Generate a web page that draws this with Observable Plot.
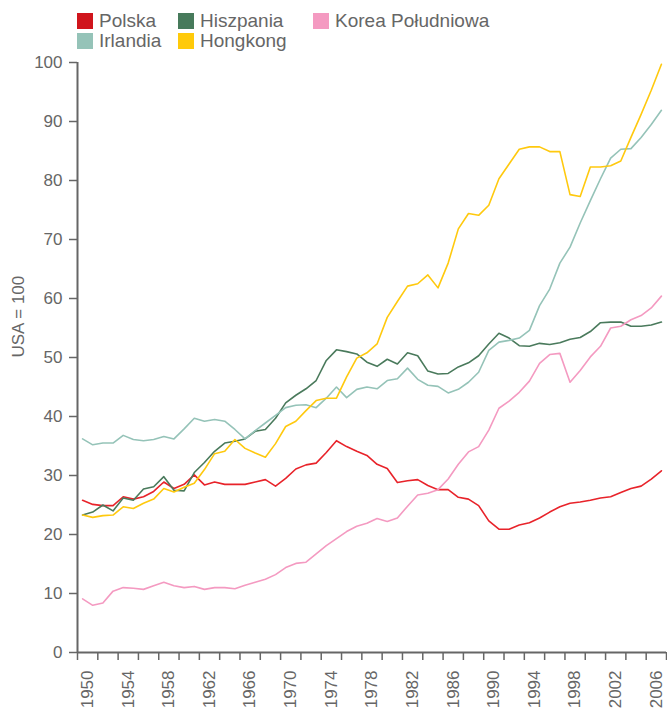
<!DOCTYPE html>
<html>
<head>
<meta charset="utf-8">
<script src="https://cdn.jsdelivr.net/npm/d3@7"></script>
<script src="https://cdn.jsdelivr.net/npm/@observablehq/plot@0.6"></script>
<style>
  html, body { margin: 0; padding: 0; background: #fff; }
  body { width: 667px; height: 713px; overflow: hidden; font-family: "Liberation Sans", Arial, sans-serif; }
  #legend { position: relative; height: 45px; width: 667px; }
  .item { position: absolute; display: flex; align-items: center; font-size: 19px; color: #666; line-height: 18px; white-space: nowrap; }
  .sw { width: 16px; height: 16px; margin-right: 6px; }
  #chart svg { display: block; overflow: visible; }
</style>
</head>
<body>
<div id="legend"></div>
<div id="chart"></div>
<script>
const years = [1950,1951,1952,1953,1954,1955,1956,1957,1958,1959,
  1960,1961,1962,1963,1964,1965,1966,1967,1968,1969,
  1970,1971,1972,1973,1974,1975,1976,1977,1978,1979,
  1980,1981,1982,1983,1984,1985,1986,1987,1988,1989,
  1990,1991,1992,1993,1994,1995,1996,1997,1998,1999,
  2000,2001,2002,2003,2004,2005,2006,2007];

const countries = ["Polska", "Hiszpania", "Korea Południowa", "Irlandia", "Hongkong"];
const lineColors = ["#e8232a", "#4a7a5c", "#f49ac1", "#95c3b8", "#ffc90e"];
const swatchColors = ["#d0151c", "#477a5b", "#f49ac1", "#95c3b8", "#ffca0a"];

const polska = [25.8,25.1,24.9,24.9,26.4,26.0,26.4,27.3,28.9,27.8,
  28.5,30.1,28.4,28.9,28.5,28.5,28.5,28.9,29.3,28.2,
  29.5,31.1,31.8,32.1,33.9,35.9,34.9,34.1,33.4,31.9,
  31.2,28.8,29.1,29.3,28.3,27.6,27.6,26.3,26.0,24.9,
  22.3,20.9,20.9,21.6,22.0,22.8,23.8,24.7,25.3,25.5,
  25.8,26.2,26.4,27.1,27.8,28.2,29.4,30.8];

const hiszpania = [23.3,23.8,25.0,24.0,26.2,25.8,27.7,28.1,29.8,27.5,
  27.4,30.5,32.2,34.1,35.5,35.8,36.2,37.5,37.8,39.7,
  42.3,43.6,44.7,46.1,49.5,51.3,51.0,50.6,49.2,48.5,
  49.7,48.9,50.8,50.3,47.7,47.2,47.3,48.4,49.1,50.3,
  52.3,54.1,53.3,52.0,51.9,52.4,52.2,52.5,53.1,53.4,
  54.4,55.9,56.0,56.0,55.3,55.3,55.5,56.0];

const korea = [9.1,8.0,8.4,10.4,11.0,10.9,10.7,11.3,11.9,11.3,
  11.0,11.2,10.7,11.0,11.0,10.8,11.4,11.9,12.4,13.2,
  14.4,15.1,15.3,16.7,18.1,19.3,20.5,21.4,21.9,22.7,
  22.2,22.8,24.8,26.7,27.0,27.6,29.4,31.9,34.0,34.9,
  37.7,41.4,42.6,44.1,46.0,49.0,50.5,50.7,45.8,47.8,
  50.1,51.9,55.0,55.3,56.4,57.1,58.4,60.4];

const irlandia = [36.2,35.2,35.5,35.5,36.8,36.1,35.9,36.1,36.6,36.2,
  37.9,39.7,39.2,39.5,39.2,37.8,36.2,37.6,38.9,40.2,
  41.5,41.9,42.0,41.5,43.1,45.0,43.2,44.6,45.0,44.7,
  46.1,46.4,48.2,46.3,45.3,45.1,44.0,44.6,45.8,47.5,
  51.2,52.6,52.9,53.3,54.6,58.8,61.6,66.0,68.7,72.8,
  76.6,80.3,83.8,85.3,85.4,87.3,89.5,91.9];

const hongkong = [23.3,22.9,23.2,23.3,24.7,24.4,25.3,26.0,27.8,27.2,
  28.0,28.7,31.0,33.7,34.1,36.1,34.6,33.8,33.1,35.4,
  38.3,39.2,41.0,42.7,43.1,43.1,46.7,49.9,50.8,52.3,
  56.8,59.5,62.1,62.5,64.0,61.8,66.0,71.8,74.4,74.1,
  75.8,80.3,82.8,85.3,85.7,85.7,84.9,84.9,77.6,77.3,
  82.3,82.3,82.5,83.3,87.3,91.2,95.3,99.7];

const yTicks = [0,10,20,30,40,50,60,70,80,90,100];
const xTickMarks = [1950,1952,1954,1956,1958,1960,1962,1964,1966,1968,1970,1972,1974,1976,1978,1980,1982,1984,1986,1988,1990,1992,1994,1996,1998,2000,2002,2004,2006,2008];
const xTickLabels = [1950,1954,1958,1962,1966,1970,1974,1978,1982,1986,1990,1994,1998,2002,2006];
const yLabel = "USA = 100";

const seriesValues = [polska, hiszpania, korea, irlandia, hongkong];
const data = [];
countries.forEach((c, k) => {
  seriesValues[k].forEach((v, i) => data.push({country: c, year: years[i], value: v}));
});

// Legend
const legendPos = [[77, 12], [178, 12], [313, 12], [77, 32], [178, 32]];
const legend = document.getElementById("legend");
countries.forEach((c, k) => {
  const it = document.createElement("div");
  it.className = "item";
  it.style.left = legendPos[k][0] + "px";
  it.style.top = legendPos[k][1] + "px";
  const sw = document.createElement("span");
  sw.className = "sw";
  sw.style.background = swatchColors[k];
  const tx = document.createElement("span");
  tx.textContent = c;
  it.appendChild(sw);
  it.appendChild(tx);
  legend.appendChild(it);
});

const axisColor = "#666";
const chart = Plot.plot({
  width: 667,
  height: 668,
  marginLeft: 77,
  marginRight: 1,
  marginTop: 17,
  marginBottom: 61,
  style: {fontFamily: "'Liberation Sans', Arial, sans-serif", color: "#666", background: "#fff", overflow: "visible"},
  x: {domain: [1950, 2008], axis: null},
  y: {domain: [0, 100], axis: null},
  color: {domain: countries, range: lineColors},
  marks: [
    Plot.line(data, {x: d => d.year + 0.5, y: "value", z: "country", stroke: "country", strokeWidth: 1.6}),
    Plot.axisY({ticks: yTicks, tickSize: 8, tickPadding: 7, fontSize: 17, stroke: axisColor, strokeWidth: 1.5, fill: "#666", label: null}),
    Plot.axisX({ticks: xTickMarks, tickSize: 8, tickFormat: () => "", stroke: axisColor, strokeWidth: 1.5, label: null}),
    Plot.axisX({ticks: xTickLabels, tickSize: 0, tickPadding: 18, tickRotate: -90, fontSize: 17, fill: "#666", dx: 10, tickFormat: d => String(d), label: null}),
    Plot.ruleX([1950], {y1: 0, y2: 100, stroke: axisColor, strokeWidth: 2}),
    Plot.ruleY([0], {x1: 1950, x2: 2008, stroke: axisColor, strokeWidth: 2}),
    Plot.text([yLabel], {frameAnchor: "left", rotate: -90, dx: -59, fontSize: 17, fill: "#666", text: d => d})
  ]
});
document.getElementById("chart").appendChild(chart);
</script>
</body>
</html>
